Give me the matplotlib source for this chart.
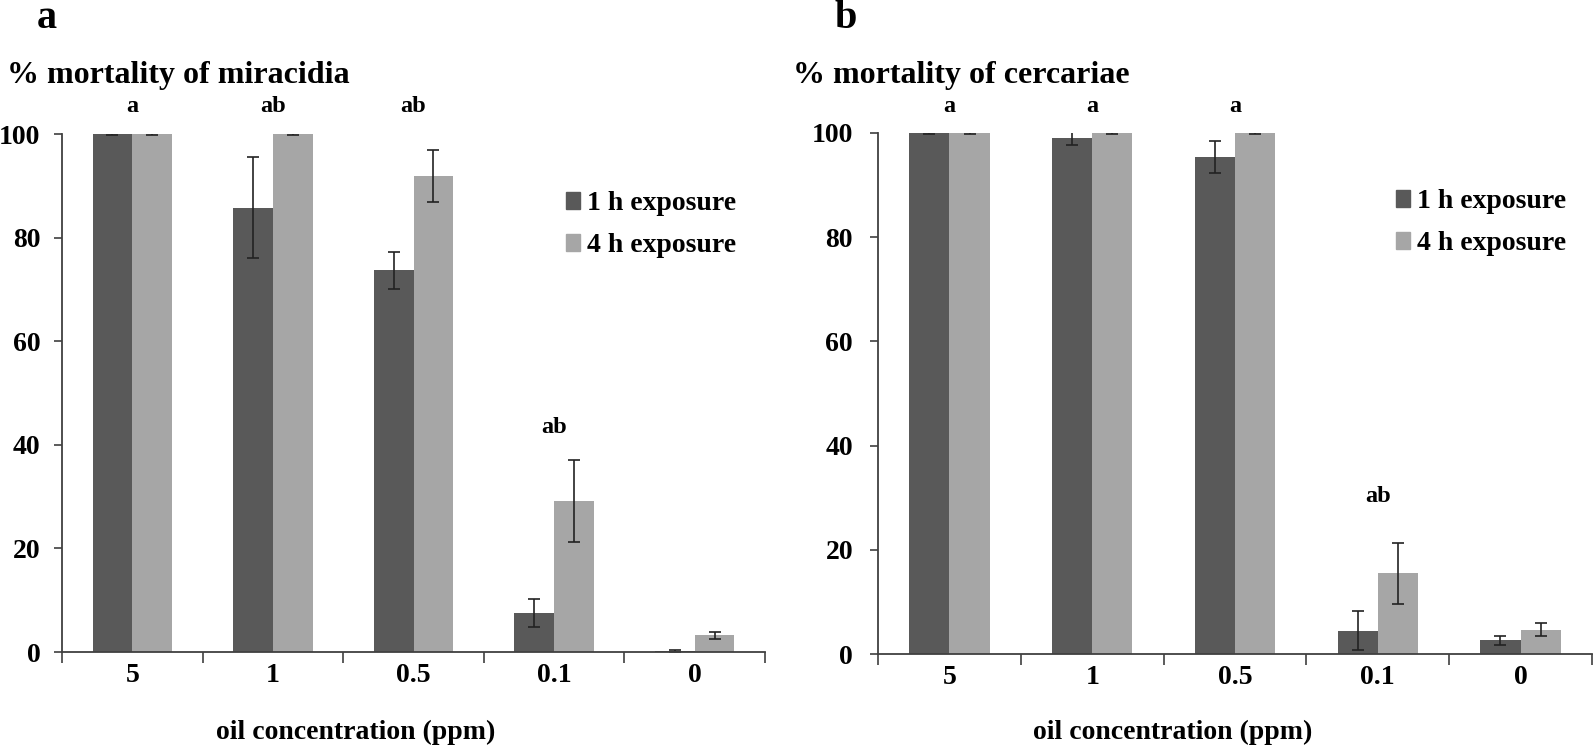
import matplotlib
matplotlib.use("Agg")
import matplotlib.pyplot as plt
from matplotlib.patches import Patch

plt.rcParams['font.family'] = ['Liberation Serif', 'DejaVu Serif']
plt.rcParams['font.weight'] = 'bold'

categories = ["5", "1", "0.5", "0.1", "0"]
series_names = ["1 h exposure", "4 h exposure"]

# Panel a: miracidia
mira_1h = [100, 85.8, 73.7, 7.5, 0.2]
mira_1h_err = [0.1, 9.7, 3.6, 2.7, 0.15]
mira_4h = [100, 100, 91.9, 29.1, 3.2]
mira_4h_err = [0.1, 0.1, 4.95, 7.9, 0.6]
mira_letters = ["a", "ab", "ab", "ab", ""]
mira_letter_y = [105.3, 105.3, 105.3, 43.4, 0]

# Panel b: cercariae
cerc_1h = [100, 99.0, 95.4, 4.5, 2.6]
cerc_1h_err = [0.1, 1.3, 3.0, 3.7, 0.8]
cerc_4h = [100, 100, 100, 15.5, 4.7]
cerc_4h_err = [0.1, 0.1, 0.1, 5.85, 1.3]
cerc_letters = ["a", "a", "a", "ab", ""]
cerc_letter_y = [105.0, 105.0, 105.0, 30.2, 0]

yticks = [0, 20, 40, 60, 80, 100]

W, H = 1594, 754
fig = plt.figure(figsize=(W / 100, H / 100), dpi=100)

DARK = "#595959"
LIGHT = "#a6a6a6"
AXC = "#404040"

def fx(px):
    return px / W

def fy(py):
    return 1 - py / H

def panel(rect, v1, e1, v2, e2, letters, letter_y, ypad, legend_xy):
    ax = fig.add_axes(rect)
    n = len(categories)
    centers = [i + 0.5 for i in range(n)]
    bw = 0.282
    ekw = dict(ecolor="#222222", elinewidth=1.2, capsize=4.5, capthick=1.2)
    ax.bar([c - bw / 2 for c in centers], v1, bw, yerr=e1, color=DARK,
           error_kw=ekw, label=series_names[0], zorder=2)
    ax.bar([c + bw / 2 for c in centers], v2, bw, yerr=e2, color=LIGHT,
           error_kw=ekw, label=series_names[1], zorder=2)
    for c, t, y in zip(centers, letters, letter_y):
        if t:
            ax.text(c, y, t, ha="center", va="center", fontsize=17.5,
                    fontweight="bold")
    ax.set_xlim(0, n)
    ax.set_ylim(0, 100)
    ax.set_yticks(yticks)
    ax.set_xticks(range(n + 1))
    ax.set_xticklabels([])
    ax.set_xticks(centers, minor=True)
    ax.set_xticklabels(categories, minor=True)
    ax.tick_params(axis="x", which="major", direction="out", length=8,
                   width=1.2, color=AXC)
    ax.tick_params(axis="x", which="minor", length=0, pad=8, labelsize=20)
    ax.tick_params(axis="y", direction="out", length=6, width=1.2, color=AXC,
                   pad=ypad, labelsize=20)
    for lab in ax.get_xticklabels(minor=True) + ax.get_yticklabels():
        lab.set_fontweight("bold")
    for s in ["top", "right"]:
        ax.spines[s].set_visible(False)
    for s in ["left", "bottom"]:
        ax.spines[s].set_color(AXC)
        ax.spines[s].set_linewidth(1.3)
    ax.spines["left"].set_bounds(0, 100)
    handles = [Patch(color=DARK), Patch(color=LIGHT)]
    fig.legend(handles, series_names, loc="upper left",
               bbox_to_anchor=(fx(legend_xy[0]), fy(legend_xy[1])),
               frameon=False, handlelength=0.5, handleheight=0.55,
               handletextpad=0.25, labelspacing=0.62, borderaxespad=0,
               borderpad=0, prop={"weight": "bold", "size": 20})
    return ax

ax1 = panel([fx(62), fy(652), fx(765 - 62), (652 - 134) / H],
            mira_1h, mira_1h_err, mira_4h, mira_4h_err,
            mira_letters, mira_letter_y, 9.5, (566, 191))
ax2 = panel([fx(878), fy(654), fx(1592 - 878), (654 - 133) / H],
            cerc_1h, cerc_1h_err, cerc_4h, cerc_4h_err,
            cerc_letters, cerc_letter_y, 12, (1396, 189))

# panel labels and titles
fig.text(fx(37), fy(28), "a", fontsize=29, fontweight="bold", va="baseline")
fig.text(fx(835), fy(28), "b", fontsize=29, fontweight="bold", va="baseline")
fig.text(fx(7), fy(83), "% mortality of miracidia", fontsize=23,
         fontweight="bold", va="baseline")
fig.text(fx(793), fy(83), "% mortality of cercariae", fontsize=23,
         fontweight="bold", va="baseline")
fig.text(fx(356), fy(732), "oil concentration (ppm)", fontsize=20,
         fontweight="bold", ha="center", va="center")
fig.text(fx(1173), fy(732), "oil concentration (ppm)", fontsize=20,
         fontweight="bold", ha="center", va="center")

fig.savefig("out.png", dpi=100)
